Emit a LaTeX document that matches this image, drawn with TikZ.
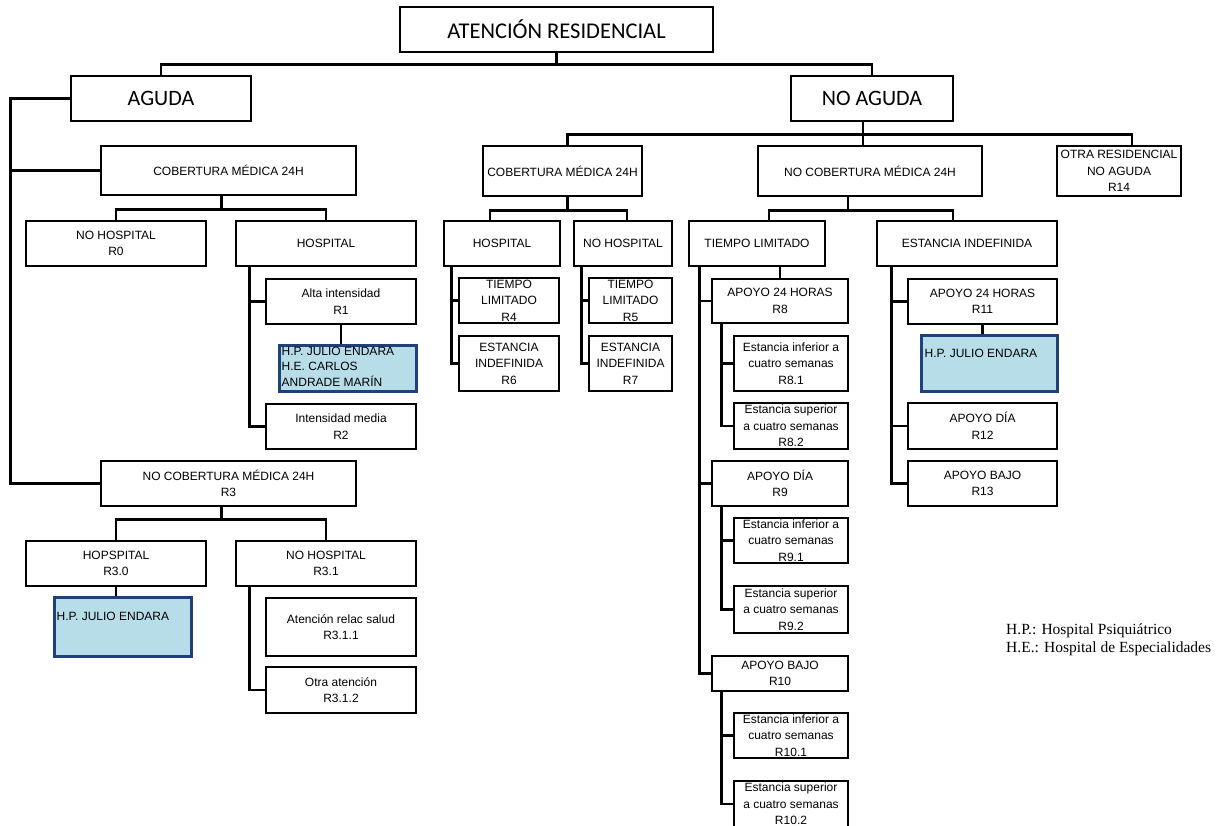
\documentclass[tikz,border=0pt]{standalone}
\usepackage{fontspec}
\newfontfamily\arialfont{Liberation Sans}
\newfontfamily\calibrifont{Carlito}
\newfontfamily\timesfont{Liberation Serif}
\definecolor{celeste}{RGB}{183,221,232}
\definecolor{azulborde}{RGB}{31,64,120}

\begin{document}
\begin{tikzpicture}[x=1pt,y=-1pt,
  conn/.style={line width=2.6pt},
  wh/.style 2 args={minimum width=#1,minimum height=#2},
  caja/.style={draw,rectangle,line width=2.6pt,inner sep=0pt,align=center,
    font=\arialfont\fontsize{12}{16.5}\selectfont},
  grande/.style={caja,font=\calibrifont\fontsize{22}{26}\selectfont},
  azul/.style={draw=azulborde,fill=celeste,line width=3pt,inner sep=0pt},
  azultxt/.style={inner sep=0pt,align=left,font=\arialfont\fontsize{12}{15.5}\selectfont},
  leyenda/.style={inner sep=0pt,align=left,font=\timesfont\fontsize{15.5}{18}\selectfont}]
  \useasboundingbox (0,0) rectangle (1231,825);

  \node[grande,wh={313}{45},font=\calibrifont\fontsize{22.5}{26}\selectfont] (top) at (556.5,29.5) {ATENCIÓN RESIDENCIAL};
  \node[grande,wh={180}{45}] (agu) at (161,98.5) {AGUDA};
  \node[grande,wh={162}{45}] (noag) at (872,98.5) {NO AGUDA};

  % aguda
  \node[caja,wh={255}{49}] (cob1) at (228.5,170.5) {COBERTURA MÉDICA 24H};
  \node[caja,wh={180}{45}] (r0) at (116,243.5) {NO HOSPITAL\\R0};
  \node[caja,wh={180}{45}] (hosp1) at (326,243.5) {HOSPITAL};
  \node[caja,wh={150}{45}] (r1) at (341,301.5) {Alta intensidad\\R1};
  \node[azul,wh={137}{46}] (hp1) at (347.5,368) {};
  \node[azultxt,anchor=north west] (hp1t) at ([xshift=4pt,yshift=-3pt]hp1.north west)
    {H.P. JULIO ENDARA\\H.E. CARLOS\\ANDRADE MARÍN};
  \node[caja,wh={150}{45}] (r2) at (341,426.5) {Intensidad media\\R2};
  \node[caja,wh={255}{45}] (nocob1) at (228.5,483.5) {NO COBERTURA MÉDICA 24H\\R3};
  \node[caja,wh={180}{45}] (h30) at (116,563.5) {HOPSPITAL\\R3.0};
  \node[azul,wh={137}{59}] (hp30) at (122.5,626.5) {};
  \node[azultxt,anchor=west] (hp30t) at ([xshift=4pt,yshift=-21pt]hp30.north west)
    {H.P. JULIO ENDARA};
  \node[caja,wh={180}{45}] (nh31) at (326,563.5) {NO HOSPITAL\\R3.1};
  \node[caja,wh={150}{58}] (r311) at (341,627) {Atención relac salud\\R3.1.1};
  \node[caja,wh={150}{46}] (r312) at (341,690) {Otra atención\\R3.1.2};

  % no aguda
  \node[caja,wh={159}{50}] (cob2) at (562.5,171) {COBERTURA MÉDICA 24H};
  \node[caja,wh={116}{45}] (hosp2) at (502,243.5) {HOSPITAL};
  \node[caja,wh={98}{45}] (nh2) at (623,243.5) {NO HOSPITAL};
  \node[caja,wh={100}{45}] (r4) at (509,300.5) {TIEMPO\\LIMITADO\\R4};
  \node[caja,wh={100}{55}] (r6) at (509,363.5) {ESTANCIA\\INDEFINIDA\\R6};
  \node[caja,wh={83}{45}] (r5) at (630.5,300.5) {TIEMPO\\LIMITADO\\R5};
  \node[caja,wh={83}{55}] (r7) at (630.5,363.5) {ESTANCIA\\INDEFINIDA\\R7};

  \node[caja,wh={224}{50}] (nocob2) at (870,171) {NO COBERTURA MÉDICA 24H};
  \node[caja,wh={124}{50}] (otra) at (1119,171) {OTRA RESIDENCIAL\\NO AGUDA\\R14};
  \node[caja,wh={136}{45}] (tl) at (757,243.5) {TIEMPO LIMITADO};
  \node[caja,wh={180}{45}] (ei) at (967,243.5) {ESTANCIA INDEFINIDA};

  \node[caja,wh={136}{44}] (r8) at (780,301) {APOYO 24 HORAS\\R8};
  \node[caja,wh={114}{55}] (r81) at (791,363.5) {Estancia inferior a\\cuatro semanas\\R8.1};
  \node[caja,wh={114}{46}] (r82) at (791,426) {Estancia superior\\a cuatro semanas\\R8.2};
  \node[caja,wh={136}{45}] (r9) at (780,483.5) {APOYO DÍA\\R9};
  \node[caja,wh={114}{45}] (r91) at (791,540.5) {Estancia inferior a\\cuatro semanas\\R9.1};
  \node[caja,wh={114}{47}] (r92) at (791,609.5) {Estancia superior\\a cuatro semanas\\R9.2};
  \node[caja,wh={136}{35}] (r10) at (780,673.5) {APOYO BAJO\\R10};
  \node[caja,wh={114}{45}] (r101) at (791,735.5) {Estancia inferior a\\cuatro semanas\\R10.1};
  \node[caja,wh={114}{46}] (r102) at (791,804) {Estancia superior\\a cuatro semanas\\R10.2};

  \node[caja,wh={149}{45}] (r11) at (982.5,301.5) {APOYO 24 HORAS\\R11};
  \node[azul,wh={136}{56}] (hp11) at (989,363) {};
  \node[azultxt,anchor=west] (hp11t) at ([xshift=5pt,yshift=-20pt]hp11.north west)
    {H.P. JULIO ENDARA};
  \node[caja,wh={149}{46}] (r12) at (982.5,426) {APOYO DÍA\\R12};
  \node[caja,wh={149}{45}] (r13) at (982.5,483.5) {APOYO BAJO\\R13};

  \node[leyenda,anchor=north west] (ley) at (1006,624)
    {H.P.: Hospital Psiquiátrico\\H.E.: Hospital de Especialidades};

  % conectores
  \draw[conn] (top.south) -- ++(0,11) coordinate (b0);
  \draw[conn] (agu.north) |- (b0) -| (noag.north);
  \draw[conn] (agu.west) -- ++(-59,0) coordinate (b1) |- (nocob1.west);
  \draw[conn] (b1) |- (cob1.west);
  \draw[conn] ([xshift=-7pt]cob1.south) -- ++(0,13) coordinate (b2);
  \draw[conn] (r0.north) |- (b2) -| (hosp1.north);
  \draw[conn] ([xshift=15pt]hosp1.south west) |- (r1.west);
  \draw[conn] ([xshift=15pt]hosp1.south west) |- (r2.west);
  \draw[conn] (r1.south) -- (r1.south |- hp1.north);
  \draw[conn] ([xshift=-7pt]nocob1.south) -- ++(0,12) coordinate (b3);
  \draw[conn] (h30.north) |- (b3) -| (nh31.north);
  \draw[conn] (h30.south) -- (h30.south |- hp30.north);
  \draw[conn] ([xshift=15pt]nh31.south west) |- (r312.west);

  \draw[conn] ([xshift=-9pt]noag.south) -- ++(0,12) coordinate (b4)
    -- ([xshift=-9pt]noag.south |- nocob2.north);
  \draw[conn] ([xshift=5pt]cob2.north) |- (b4) -| ([xshift=13pt]otra.north);
  \draw[conn] ([xshift=5pt]cob2.south) -- ++(0,13) coordinate (b5);
  \draw[conn] ([xshift=-12pt]hosp2.north) |- (b5) -| ([xshift=4pt]nh2.north);
  \draw[conn] ([xshift=9pt]hosp2.south west) |- (r4.west);
  \draw[conn] ([xshift=9pt]hosp2.south west) |- (r6.west);
  \draw[conn] ([xshift=9pt]nh2.south west) |- (r5.west);
  \draw[conn] ([xshift=9pt]nh2.south west) |- (r7.west);

  \draw[conn] ([xshift=-22pt]nocob2.south) -- ++(0,13) coordinate (b6);
  \draw[conn] ([xshift=12pt]tl.north) |- (b6) -| ([xshift=-14pt]ei.north);
  \draw[conn] (tl.south -| r8.north) -- (r8.north);
  \draw[conn] ([xshift=12pt]tl.south west) |- (r8.west);
  \draw[conn] ([xshift=12pt]tl.south west) |- (r9.west);
  \draw[conn] ([xshift=12pt]tl.south west) |- (r10.west);
  \draw[conn] ([xshift=11pt]r8.south west) |- (r81.west);
  \draw[conn] ([xshift=11pt]r8.south west) |- (r82.west);
  \draw[conn] ([xshift=11pt]r9.south west) |- (r91.west);
  \draw[conn] ([xshift=11pt]r9.south west) |- (r92.west);
  \draw[conn] ([xshift=11pt]r10.south west) |- (r101.west);
  \draw[conn] ([xshift=11pt]r10.south west) |- (r102.west);
  \draw[conn] ([xshift=16pt]ei.south west) |- (r11.west);
  \draw[conn] ([xshift=16pt]ei.south west) |- (r12.west);
  \draw[conn] ([xshift=16pt]ei.south west) |- (r13.west);
  \draw[conn] (r11.south) -- (r11.south |- hp11.north);
\end{tikzpicture}
\end{document}
